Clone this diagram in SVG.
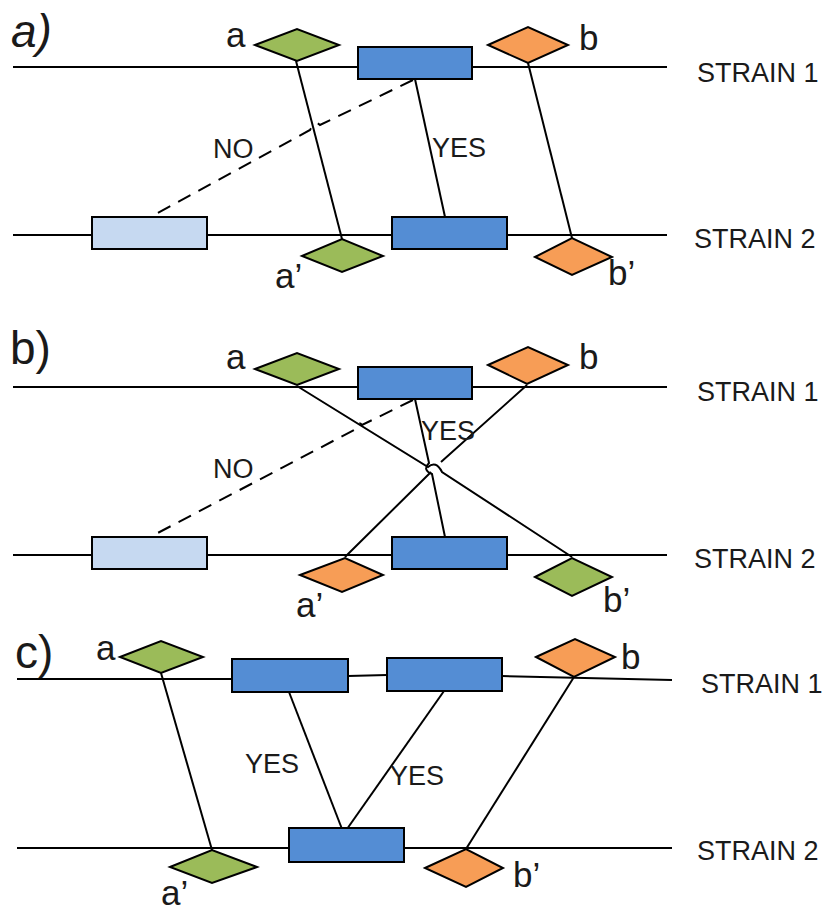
<svg xmlns="http://www.w3.org/2000/svg" width="825" height="913" viewBox="0 0 825 913">
  <style>
    .strand { stroke: #000; stroke-width: 2; fill: none; }
    .link { stroke: #000; stroke-width: 2; fill: none; }
    .dash { stroke: #000; stroke-width: 2; fill: none; stroke-dasharray: 14 9; }
    .gene { fill: #548DD4; stroke: #000; stroke-width: 2; }
    .gene-lost { fill: #C6D9F1; stroke: #000; stroke-width: 2; }
    .green { fill: #9BBB59; stroke: #000; stroke-width: 2; stroke-linejoin: miter; }
    .orange { fill: #F79D56; stroke: #000; stroke-width: 2; stroke-linejoin: miter; }
    text { font-family: "Liberation Sans", Arial, sans-serif; fill: #1a1a1a; }
    .panel { font-size: 46px; }
    .mark { font-size: 35px; }
    .strain { font-size: 27px; }
    .ans { font-size: 27px; }
  </style>

  <!-- ===== panel a ===== -->
  <g id="panel-a">
    <text class="panel" x="11" y="47" font-style="italic">a)</text>
    <g id="a-strand1"><line class="strand" x1="13" y1="67" x2="667" y2="67"/></g>
    <g id="a-strand2"><line class="strand" x1="13" y1="235" x2="667" y2="235"/></g>

    <g id="a-connectors">
      <line class="link" x1="296" y1="61" x2="342" y2="239"/>
      <line class="link" x1="528" y1="63" x2="572" y2="238"/>
      <line class="link" x1="415" y1="79" x2="445" y2="217"/>
      <path class="dash" d="M413,80 L320,125 Q315,120 310,130 L152,216"/>
    </g>

    <g id="a-gene1"><rect class="gene" x="358" y="47" width="114" height="32"/></g>
    <g id="a-gene2"><rect class="gene" x="392" y="217" width="115" height="32"/></g>
    <g id="a-gene-lost"><rect class="gene-lost" x="92" y="217" width="115" height="32"/></g>

    <g id="a-marker-a">
      <polygon class="green" points="255,45 297,29 339,45 297,61"/>
      <text class="mark" x="226" y="47">a</text>
    </g>
    <g id="a-marker-b">
      <polygon class="orange" points="488,45 528,27 568,45 528,63"/>
      <text class="mark" x="579" y="50">b</text>
    </g>
    <g id="a-marker-a2">
      <polygon class="green" points="302,256 342,239 383,256 342,272"/>
      <text class="mark" x="275" y="288">a’</text>
    </g>
    <g id="a-marker-b2">
      <polygon class="orange" points="535,257 572,238 612,257 572,275"/>
      <text class="mark" x="608" y="285">b’</text>
    </g>

    <text class="ans" x="213" y="158">NO</text>
    <text class="ans" x="432" y="157">YES</text>
    <text class="strain" x="697" y="82">STRAIN 1</text>
    <text class="strain" x="694" y="248">STRAIN 2</text>
  </g>

  <!-- ===== panel b ===== -->
  <g id="panel-b">
    <text class="panel" x="10" y="364">b)</text>
    <g id="b-strand1"><line class="strand" x1="13" y1="387" x2="667" y2="387"/></g>
    <g id="b-strand2"><line class="strand" x1="13" y1="555" x2="667" y2="555"/></g>

    <g id="b-connectors">
      <!-- a to b' and b to a' cross with a small jump -->
      <path class="link" d="M297,386 L428,467 Q436,460 442,472 L572,557"/>
      <path class="link" d="M527,385 L441,462 M431,472 L345,557"/>
      <path class="link" d="M415,399 L429,463 Q422,470 432,474 L445,537"/>
      <path class="dash" d="M413,400 L362,425 Q358,420 354,430 L152,536"/>
    </g>

    <g id="b-gene1"><rect class="gene" x="358" y="367" width="114" height="32"/></g>
    <g id="b-gene2"><rect class="gene" x="392" y="537" width="115" height="32"/></g>
    <g id="b-gene-lost"><rect class="gene-lost" x="92" y="537" width="115" height="32"/></g>

    <g id="b-marker-a">
      <polygon class="green" points="255,369 297,353 339,369 297,385"/>
      <text class="mark" x="226" y="369">a</text>
    </g>
    <g id="b-marker-b">
      <polygon class="orange" points="488,365 528,347 568,365 527,384"/>
      <text class="mark" x="579" y="369">b</text>
    </g>
    <g id="b-marker-a2">
      <polygon class="orange" points="300,575 345,558 383,575 342,592"/>
      <text class="mark" x="296" y="617">a’</text>
    </g>
    <g id="b-marker-b2">
      <polygon class="green" points="535,577 572,558 612,577 572,596"/>
      <text class="mark" x="603" y="612">b’</text>
    </g>

    <text class="ans" x="213" y="478">NO</text>
    <text class="ans" x="421" y="440">YES</text>
    <text class="strain" x="697" y="401">STRAIN 1</text>
    <text class="strain" x="694" y="568">STRAIN 2</text>
  </g>

  <!-- ===== panel c ===== -->
  <g id="panel-c">
    <text class="panel" x="15" y="668">c)</text>
    <g id="c-strand1">
      <polyline class="strand" points="17,679 232,679"/>
      <polyline class="strand" points="348,676 387,675"/>
      <polyline class="strand" points="502,676 672,680"/>
    </g>
    <g id="c-strand2"><line class="strand" x1="17" y1="848" x2="672" y2="848"/></g>

    <g id="c-connectors">
      <line class="link" x1="161" y1="673" x2="212" y2="850"/>
      <line class="link" x1="574" y1="677" x2="466" y2="849"/>
      <line class="link" x1="289" y1="692" x2="342" y2="829"/>
      <line class="link" x1="444" y1="691" x2="347" y2="829"/>
    </g>

    <g id="c-gene1"><rect class="gene" x="232" y="659" width="116" height="33"/></g>
    <g id="c-gene2"><rect class="gene" x="387" y="658" width="115" height="33"/></g>
    <g id="c-gene3"><rect class="gene" x="289" y="828" width="115" height="34"/></g>

    <g id="c-marker-a">
      <polygon class="green" points="120,657 161,641 203,657 161,673"/>
      <text class="mark" x="96" y="660">a</text>
    </g>
    <g id="c-marker-b">
      <polygon class="orange" points="536,657 575,639 615,657 574,677"/>
      <text class="mark" x="621" y="669">b</text>
    </g>
    <g id="c-marker-a2">
      <polygon class="green" points="170,867 212,850 257,867 212,883"/>
      <text class="mark" x="161" y="905">a’</text>
    </g>
    <g id="c-marker-b2">
      <polygon class="orange" points="425,868 466,849 503,868 466,887"/>
      <text class="mark" x="513" y="887">b’</text>
    </g>

    <text class="ans" x="245" y="773">YES</text>
    <text class="ans" x="390" y="785">YES</text>
    <text class="strain" x="701" y="693">STRAIN 1</text>
    <text class="strain" x="697" y="860">STRAIN 2</text>
  </g>
</svg>
